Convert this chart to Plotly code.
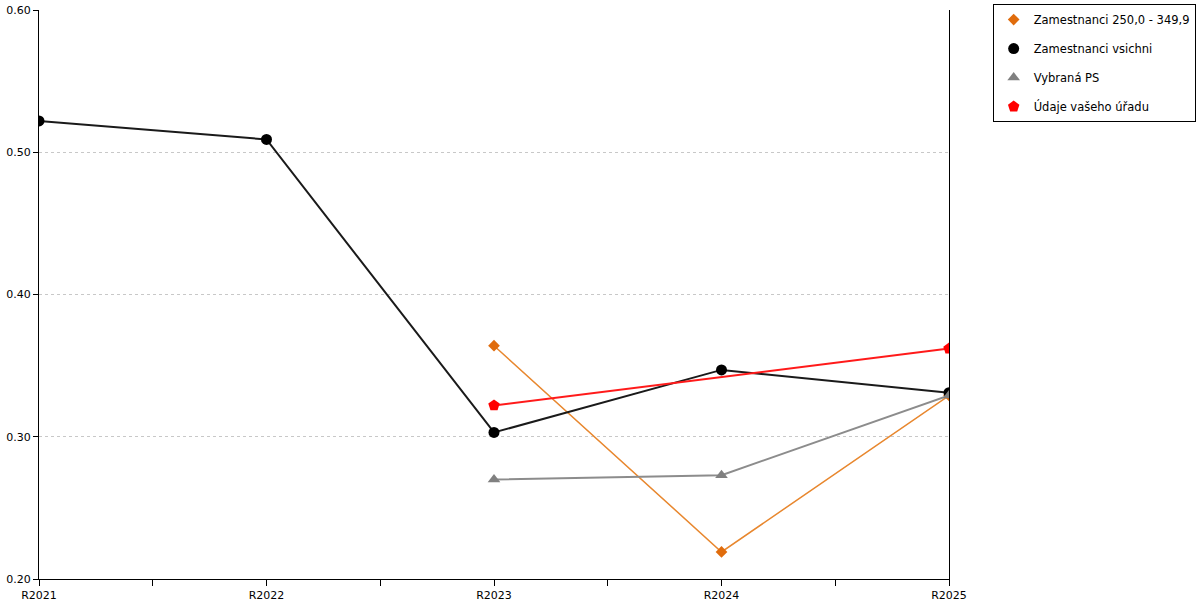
import plotly.graph_objs as go

years = ['R2021', 'R2022', 'R2023', 'R2024', 'R2025']
y_ticks = [0.2, 0.3, 0.4, 0.5, 0.6]

zam_250_350 = [None, None, 0.364, 0.219, 0.329]
zam_vsichni = [0.522, 0.509, 0.303, 0.347, 0.331]
vybrana_ps = [None, None, 0.270, 0.273, 0.329]
udaje_uradu = [None, None, 0.322, None, 0.362]

x_pos = list(range(len(years)))

tick_vals = []
tick_text = []
for i, y in enumerate(years):
    tick_vals.append(i)
    tick_text.append(y)
    if i < len(years) - 1:
        tick_vals.append(i + 0.5)
        tick_text.append('')

series = [
    dict(name='Zamestnanci 250,0 - 349,9', y=zam_250_350,
         line=dict(color='#e8872e', width=1.5),
         marker=dict(symbol='diamond', size=9, color='#e06c0c')),
    dict(name='Zamestnanci vsichni', y=zam_vsichni,
         line=dict(color='#1a1a1a', width=2),
         marker=dict(symbol='circle', size=11, color='black')),
    dict(name='Vybraná PS', y=vybrana_ps,
         line=dict(color='#8c8c8c', width=2),
         marker=dict(symbol='triangle-up', size=11, color='#808080')),
    dict(name='Údaje vašeho úřadu', y=udaje_uradu,
         line=dict(color='#ff1a1a', width=2),
         marker=dict(symbol='pentagon', size=12, color='red')),
]

graph_data = []
for i, s in enumerate(series):
    graph_data.append(go.Scatter(
        name=s['name'],
        x=x_pos,
        y=s['y'],
        mode='lines+markers',
        connectgaps=True,
        line=s['line'],
        marker=s['marker'],
        showlegend=False,
    ))
for i, s in enumerate(series):
    # legend entry with marker only
    graph_data.append(go.Scatter(
        name=s['name'],
        x=[None],
        y=[None],
        mode='markers',
        marker=s['marker'],
        legendgroup='g%d' % i,
    ))

layout = go.Layout(
    width=1200,
    height=600,
    margin=dict(l=39, r=251, t=10, b=21, autoexpand=False),
    paper_bgcolor='white',
    plot_bgcolor='white',
    font=dict(family='DejaVu Sans', size=11, color='black'),
    xaxis=dict(
        range=[0, 4],
        tickvals=tick_vals,
        ticktext=tick_text,
        ticks='outside',
        ticklen=6,
        tickcolor='black',
        showline=True,
        linecolor='black',
        linewidth=1,
        showgrid=False,
        zeroline=False,
    ),
    yaxis=dict(
        range=[0.2, 0.6],
        tickvals=y_ticks,
        tickformat='.2f',
        ticks='outside',
        ticklen=5,
        tickcolor='black',
        showline=True,
        mirror=True,
        linecolor='black',
        linewidth=1,
        showgrid=True,
        gridcolor='#c8c8c8',
        griddash='dot',
        zeroline=False,
    ),
    legend=dict(
        x=1.048,
        y=1.0105,
        xanchor='left',
        yanchor='top',
        bordercolor='black',
        borderwidth=1,
        font=dict(size=11.5),
        tracegroupgap=10,
        itemwidth=30,
    ),
)

fig = go.Figure(data=graph_data, layout=layout)
# drop the default page margin so the chart sits at the window corner
fig.write_html('out.html', config={'displayModeBar': False},
               post_script="document.body.style.margin='0';")
